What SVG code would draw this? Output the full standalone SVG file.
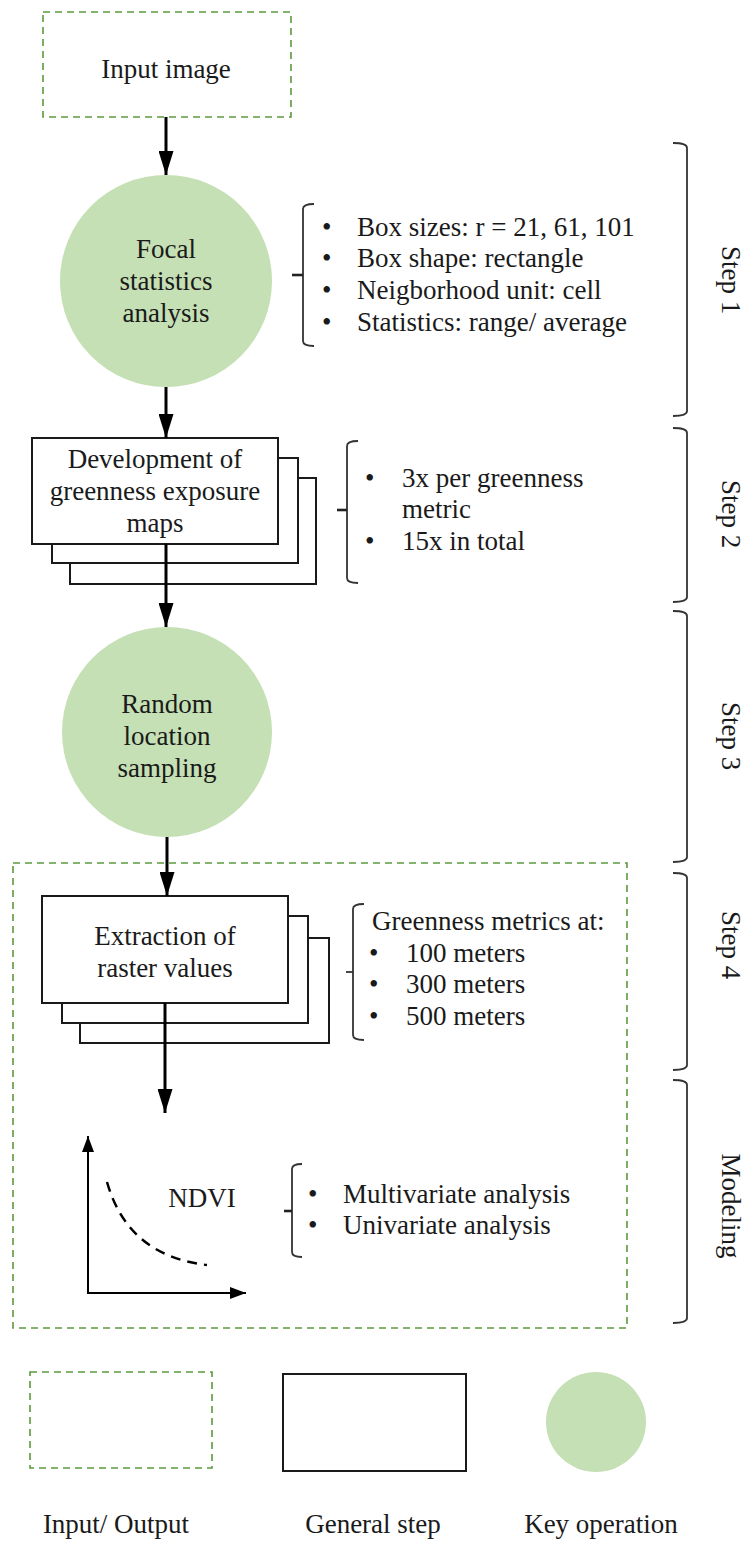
<svg xmlns="http://www.w3.org/2000/svg" width="747" height="1542" viewBox="0 0 747 1542">
<style>
text{font-family:"Liberation Serif","Times New Roman",serif;font-size:27px;fill:#1a1a1a}
.c{text-anchor:middle}
.io{fill:none;stroke:#5b9a3c;stroke-width:1.6;stroke-dasharray:7,5}
.gs{fill:#fff;stroke:#1a1a1a;stroke-width:2}
.key{fill:#c5e0b4}
.br{fill:none;stroke:#333;stroke-width:1.8}
.tk{fill:none;stroke:#222;stroke-width:2.6}
.ar{stroke:#000;stroke-width:3;fill:none}
.ax{stroke:#000;stroke-width:2;fill:none}
</style>
<defs>
<marker id="ah" markerWidth="8" markerHeight="5" refX="8" refY="2.5" orient="auto" markerUnits="strokeWidth">
<path d="M0,0 L8,2.5 L0,5 Z" fill="#000"/>
</marker>
<marker id="sh" markerWidth="8" markerHeight="6" refX="8" refY="3" orient="auto" markerUnits="strokeWidth">
<path d="M0,0 L8,3 L0,6 Z" fill="#000"/>
</marker>
</defs>

<g id="input-image">
<rect class="io" x="43" y="12" width="248" height="105"/>
<text class="c" x="166" y="78">Input image</text>
</g>

<g id="focal-statistics">
<circle class="key" cx="166" cy="281" r="106"/>
<text class="c" x="166" y="258">Focal</text>
<text class="c" x="166" y="290">statistics</text>
<text class="c" x="166" y="322">analysis</text>
</g>

<g id="focal-notes">
<path class="br" d="M314,204 Q303,204 303,209 L303,341 Q303,346 314,346"/>
<path class="tk" d="M303,275 L292,275"/>
<text x="322" y="236">•</text><text x="357" y="236">Box sizes: r = 21, 61, 101</text>
<text x="322" y="267">•</text><text x="357" y="267">Box shape: rectangle</text>
<text x="322" y="299">•</text><text x="357" y="299">Neigborhood unit: cell</text>
<text x="322" y="331">•</text><text x="357" y="331">Statistics: range/ average</text>
</g>

<g id="greenness-maps">
<rect class="gs" x="70" y="478" width="246" height="106"/>
<rect class="gs" x="52" y="458" width="246" height="105"/>
<rect class="gs" x="32" y="438" width="246" height="106"/>
<text class="c" x="155" y="468">Development of</text>
<text class="c" x="155" y="500">greenness exposure</text>
<text class="c" x="155" y="532">maps</text>
</g>

<g id="maps-notes">
<path class="br" d="M358,441 Q347,441 347,446 L347,578 Q347,583 358,583"/>
<path class="tk" d="M347,510 L337,510"/>
<text x="365" y="487">•</text><text x="402" y="487">3x per greenness</text>
<text x="402" y="518">metric</text>
<text x="365" y="550">•</text><text x="402" y="550">15x in total</text>
</g>

<g id="random-sampling">
<circle class="key" cx="167" cy="732" r="105"/>
<text class="c" x="167" y="713">Random</text>
<text class="c" x="167" y="745">location</text>
<text class="c" x="167" y="777">sampling</text>
</g>

<g id="output-frame">
<rect class="io" x="13" y="863" width="614" height="465"/>
</g>

<g id="extraction">
<rect class="gs" x="80" y="938" width="249" height="105"/>
<rect class="gs" x="62" y="916" width="246" height="107"/>
<rect class="gs" x="42" y="896" width="246" height="107"/>
<text class="c" x="165" y="945">Extraction of</text>
<text class="c" x="165" y="977">raster values</text>
</g>

<g id="extraction-notes">
<path class="br" d="M364,904 Q353,904 353,909 L353,1035 Q353,1040 364,1040"/>
<path class="br" d="M353,972 L346,972"/>
<text x="372" y="930">Greenness metrics at:</text>
<text x="369" y="962">•</text><text x="406" y="962">100 meters</text>
<text x="369" y="993">•</text><text x="406" y="993">300 meters</text>
<text x="369" y="1025">•</text><text x="406" y="1025">500 meters</text>
</g>

<g id="ndvi-model">
<line class="ax" x1="88" y1="1293" x2="88" y2="1136" marker-end="url(#sh)"/>
<line class="ax" x1="87" y1="1293" x2="246" y2="1293" marker-end="url(#sh)"/>
<path d="M107,1182 Q128,1256 207,1265" fill="none" stroke="#000" stroke-width="2.5" stroke-dasharray="10,7"/>
<text class="c" x="202" y="1207">NDVI</text>
</g>

<g id="model-notes">
<path class="br" d="M302,1164 Q292,1164 292,1169 L292,1252 Q292,1257 302,1257"/>
<path class="tk" d="M292,1211 L284,1211"/>
<text x="308" y="1203">•</text><text x="343" y="1203">Multivariate analysis</text>
<text x="308" y="1234">•</text><text x="343" y="1234">Univariate analysis</text>
</g>

<g id="step-brackets">
<path class="br" d="M673,143 Q687,143 687,148 L687,411 Q687,416 673,416"/>
<path class="br" d="M673,428 Q687,428 687,433 L687,597 Q687,602 673,602"/>
<path class="br" d="M673,611 Q687,611 687,616 L687,857 Q687,862 673,862"/>
<path class="br" d="M673,873 Q687,873 687,878 L687,1065 Q687,1070 673,1070"/>
<path class="br" d="M673,1080 Q687,1080 687,1085 L687,1318 Q687,1323 673,1323"/>
<text class="c" transform="translate(722,280) rotate(90)">Step 1</text>
<text class="c" transform="translate(722,514) rotate(90)">Step 2</text>
<text class="c" transform="translate(722,736) rotate(90)">Step 3</text>
<text class="c" transform="translate(722,945) rotate(90)">Step 4</text>
<text class="c" transform="translate(722,1206) rotate(90)">Modeling</text>
</g>

<g id="connectors">
<line class="ar" x1="166" y1="117" x2="166" y2="175" marker-end="url(#ah)"/>
<line class="ar" x1="166" y1="387" x2="166" y2="438" marker-end="url(#ah)"/>
<line class="ar" x1="166" y1="544" x2="166" y2="627" marker-end="url(#ah)"/>
<line class="ar" x1="167" y1="837" x2="167" y2="896" marker-end="url(#ah)"/>
<line class="ar" x1="165" y1="1003" x2="165" y2="1113" marker-end="url(#ah)"/>
</g>

<g id="legend">
<rect class="io" x="30" y="1372" width="182" height="96"/>
<rect class="gs" x="283" y="1374" width="183" height="97"/>
<circle class="key" cx="596" cy="1422" r="50"/>
<text class="c" x="116" y="1533">Input/ Output</text>
<text class="c" x="373" y="1533">General step</text>
<text class="c" x="601" y="1533">Key operation</text>
</g>
</svg>
